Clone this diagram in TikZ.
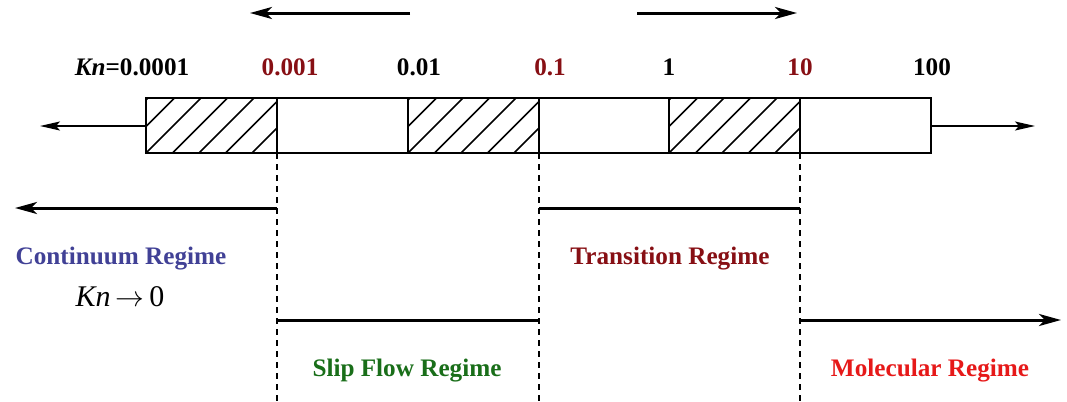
\documentclass[tikz,border=0pt]{standalone}
\usepackage{fontspec}
\setmainfont{Liberation Serif}
\usetikzlibrary{arrows.meta}
\definecolor{dred}{RGB}{135,15,20}
\definecolor{cblue}{RGB}{65,65,150}
\definecolor{sgreen}{RGB}{25,110,25}
\definecolor{mred}{RGB}{230,25,25}
\begin{document}
\begin{tikzpicture}[x=0.5pt,y=-0.5pt,
  lbl/.style={font=\bfseries\fontsize{12.6}{14}\selectfont, inner sep=0pt},
  bigarrow/.style={line width=1.5pt,-{Stealth[length=11pt,width=6pt,inset=3pt]}},
  bigline/.style={line width=1.5pt},
  sidearrow/.style={line width=0.8pt,-{Stealth[length=10pt,width=4.5pt,inset=2pt]}},
  barline/.style={line width=1pt},
  hatch/.style={line width=0.75pt},
  dashline/.style={line width=0.6pt, dash pattern=on 3pt off 2.5pt}]
\useasboundingbox (0,0) rectangle (1067,402);
% cell edges
\foreach \i/\x in {0/146,1/277,2/408,3/539,4/669,5/800,6/931}{
  \coordinate (t\i) at (\x,98);
  \coordinate (b\i) at (\x,153);
  \coordinate (e\i) at (\x,402);
}
% hatching
\foreach \a/\b in {0/1,2/3,4/5}{
  \begin{scope}
    \clip (t\a) rectangle (b\b);
    \foreach \k in {0,...,8}{
      \draw[hatch] ([xshift=-26.5pt+\k*13.25pt]b\a) -- ++(55,-55);
    }
  \end{scope}
}
% bar
\draw[barline] (t0) rectangle (b6);
\foreach \i in {1,...,5}{ \draw[barline] (t\i) -- (b\i); }
% side arrows
\coordinate (barL) at (146,126);
\coordinate (barR) at (931,126);
\coordinate (farL) at (40,126);
\coordinate (farR) at (1035,126);
\draw[sidearrow] (barL) -- (farL);
\draw[sidearrow] (barR) -- (farR);
% top arrows
\coordinate (tlA) at (410,13);
\coordinate (tlB) at (250,13);
\coordinate (trA) at (637,13);
\coordinate (trB) at (797,13);
\draw[bigarrow] (tlA) -- (tlB);
\draw[bigarrow] (trA) -- (trB);
% labels
\node[lbl] (k0) at (132,67) {\textit{Kn}=0.0001};
\node[lbl, text=dred] (k1) at (290,67) {0.001};
\node[lbl] (k2) at (419,67) {0.01};
\node[lbl, text=dred] (k3) at (550,67) {0.1};
\node[lbl] (k4) at (669,67) {1};
\node[lbl, text=dred] (k5) at (800,67) {10};
\node[lbl] (k6) at (932,67) {100};
% dashed lines
\foreach \i in {1,3,5}{ \draw[dashline] (b\i) -- (e\i); }
% regime lines
\coordinate (c1) at (277,208);
\coordinate (c0) at (15,208);
\coordinate (tr0) at (539,208);
\coordinate (tr1) at (800,208);
\coordinate (s0) at (277,320);
\coordinate (s1) at (539,320);
\coordinate (m0) at (800,320);
\coordinate (m1) at (1061,320);
\draw[bigarrow] (c1) -- (c0);
\draw[bigline] (tr0) -- (tr1);
\draw[bigline] (s0) -- (s1);
\draw[bigarrow] (m0) -- (m1);
% regime names
\node[lbl, text=cblue] (cont) at (121,259) {Continuum Regime};
\node[inner sep=0pt, font=\fontsize{15}{17}\selectfont] (knz) at (120,297) {\textit{Kn}\,$\rightarrow$\,0};
\node[lbl, text=dred] (trans) at (670,259) {Transition Regime};
\node[lbl, text=sgreen] (slip) at (407,371) {Slip Flow Regime};
\node[lbl, text=mred] (mol) at (930,371) {Molecular Regime};
\end{tikzpicture}
\end{document}
